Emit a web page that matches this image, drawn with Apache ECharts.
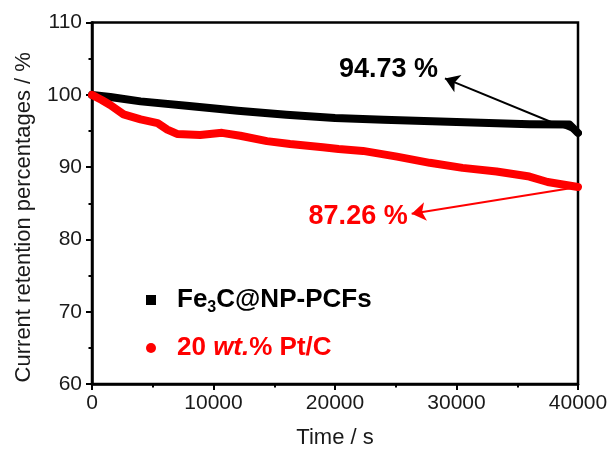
<!DOCTYPE html>
<html>
<head>
<meta charset="utf-8">
<script src="https://cdn.jsdelivr.net/npm/echarts@6/dist/echarts.min.js"></script>
<style>
  html, body { margin: 0; padding: 0; background: #fff; }
  #chart { width: 611px; height: 454px; }
</style>
</head>
<body>
<div id="chart"></div>
<script>
const FONT = '"Liberation Sans", Arial, Helvetica, sans-serif';

// Chronoamperometric stability: time (s) and retained current (%)
const fe3cName = 'Fe3C@NP-PCFs';
const fe3cTime = [0, 1500, 4000, 8000, 12000, 16000, 20000, 24000, 28000, 32000, 36000, 39300, 40000];
const fe3cValues = [100, 99.7, 99.1, 98.45, 97.8, 97.25, 96.8, 96.55, 96.35, 96.15, 95.95, 95.9, 94.73];

const ptcName = '20 wt.% Pt/C';
const ptcTime = [0, 800, 1500, 2600, 4000, 5400, 6200, 7000, 8900, 10700, 12200, 14400, 16300, 19000, 20300, 22300, 25100, 27800, 30500, 33300, 36000, 37500, 40000];
const ptcValues = [100, 99.3, 98.6, 97.3, 96.6, 96.1, 95.2, 94.6, 94.45, 94.75, 94.35, 93.6, 93.2, 92.75, 92.5, 92.25, 91.45, 90.6, 89.9, 89.4, 88.7, 87.95, 87.26];

// Axis tick labels
const xTickLabels = [0, 10000, 20000, 30000, 40000];
const yTickLabels = [60, 70, 80, 90, 100, 110];

// Where each annotation arrow points to (in axis units)
const fe3cArrowTip = [29050, 102.28];
const ptcArrowTip = [26310, 83.55];

const pairs = (t, v) => t.map((x, i) => [x, v[i]]);
const last = a => a[a.length - 1];

function arrowMark(color, tailT, tailV, tip) {
  return {
    silent: true,
    animation: false,
    symbol: ['none', 'arrow'],
    symbolSize: 14,
    label: { show: false },
    lineStyle: { color: color, width: 2, type: 'solid' },
    emphasis: { disabled: true },
    data: [[{ coord: [tailT, tailV] }, { coord: tip }]]
  };
}

function valueTag(color, tip, value, distance, dy) {
  return {
    silent: true,
    animation: false,
    symbol: 'circle',
    symbolSize: 0,
    data: [{ coord: tip, value: value }],
    label: {
      show: true,
      position: 'left',
      distance: distance,
      offset: [0, dy],
      formatter: p => p.value.toFixed(2) + ' %',
      fontFamily: FONT,
      fontSize: 27,
      fontWeight: 'bold',
      color: color
    }
  };
}

const axisCommon = {
  axisLine: { show: true, onZero: false, lineStyle: { color: '#000', width: 2.5 } },
  axisTick: { show: true, inside: false, length: 6, lineStyle: { color: '#000', width: 2 } },
  minorTick: { show: true, splitNumber: 2, length: 3.5, lineStyle: { color: '#000', width: 2 } },
  splitLine: { show: false },
  minorSplitLine: { show: false },
  axisLabel: { fontFamily: FONT, fontSize: 21, color: '#1a1a1a', formatter: v => String(v) },
  nameTextStyle: { fontFamily: FONT, fontSize: 22, color: '#1a1a1a' }
};

const chart = echarts.init(document.getElementById('chart'), null, { renderer: 'canvas' });

chart.setOption({
  animation: false,
  backgroundColor: '#fff',
  grid: {
    left: 92, right: 33, top: 22.6, bottom: 65.7,
    show: true, borderColor: '#000', borderWidth: 2.5, backgroundColor: 'transparent'
  },
  xAxis: Object.assign({}, axisCommon, {
    type: 'value',
    min: xTickLabels[0],
    max: last(xTickLabels),
    interval: xTickLabels[1] - xTickLabels[0],
    name: 'Time / s',
    nameLocation: 'middle',
    nameGap: 43,
    axisLabel: Object.assign({}, axisCommon.axisLabel, { margin: 9 })
  }),
  yAxis: Object.assign({}, axisCommon, {
    type: 'value',
    min: yTickLabels[0],
    max: last(yTickLabels),
    interval: yTickLabels[1] - yTickLabels[0],
    name: 'Current retention percentages / %',
    nameLocation: 'middle',
    nameGap: 57,
    nameTextStyle: Object.assign({}, axisCommon.nameTextStyle, { padding: [0, 28, 0, 0] }),
    axisLabel: Object.assign({}, axisCommon.axisLabel, { margin: 10 })
  }),
  legend: {
    orient: 'vertical',
    left: 141,
    top: 282,
    itemWidth: 10,
    itemHeight: 10,
    itemGap: 19,
    selectedMode: false,
    data: [
      { name: fe3cName, icon: 'rect' },
      { name: ptcName, icon: 'circle' }
    ],
    formatter: name => name === fe3cName
      ? '{k0|Fe}{ks|3}{k|C@NP-PCFs}'
      : '{r0|20 }{ri|wt.}{r|% Pt/C}',
    textStyle: {
      fontFamily: FONT,
      rich: {
        k0: { fontFamily: FONT, fontSize: 26, fontWeight: 'bold', color: '#000', padding: [0, 0, 0, 16] },
        k: { fontFamily: FONT, fontSize: 26, fontWeight: 'bold', color: '#000' },
        ks: { fontFamily: FONT, fontSize: 16, fontWeight: 'bold', color: '#000', padding: [16, 0, 0, 0] },
        r0: { fontFamily: FONT, fontSize: 26, fontWeight: 'bold', color: '#ff0000', padding: [0, 0, 0, 16] },
        ri: { fontFamily: FONT, fontSize: 26, fontWeight: 'bold', fontStyle: 'italic', color: '#ff0000' },
        r: { fontFamily: FONT, fontSize: 26, fontWeight: 'bold', color: '#ff0000' }
      }
    }
  },
  series: [
    {
      name: fe3cName,
      type: 'line',
      data: pairs(fe3cTime, fe3cValues),
      showSymbol: false,
      color: '#000',
      lineStyle: { color: '#000', width: 8, cap: 'round', join: 'round' },
      emphasis: { disabled: true },
      markLine: arrowMark('#000', last(fe3cTime), last(fe3cValues), fe3cArrowTip),
      markPoint: valueTag('#000', fe3cArrowTip, last(fe3cValues), 7, -9)
    },
    {
      name: ptcName,
      type: 'line',
      data: pairs(ptcTime, ptcValues),
      showSymbol: false,
      color: '#ff0000',
      lineStyle: { color: '#ff0000', width: 8, cap: 'round', join: 'round' },
      emphasis: { disabled: true },
      markLine: arrowMark('#ff0000', last(ptcTime), last(ptcValues), ptcArrowTip),
      markPoint: valueTag('#ff0000', ptcArrowTip, last(ptcValues), 4, 3)
    }
  ]
});
</script>
</body>
</html>
